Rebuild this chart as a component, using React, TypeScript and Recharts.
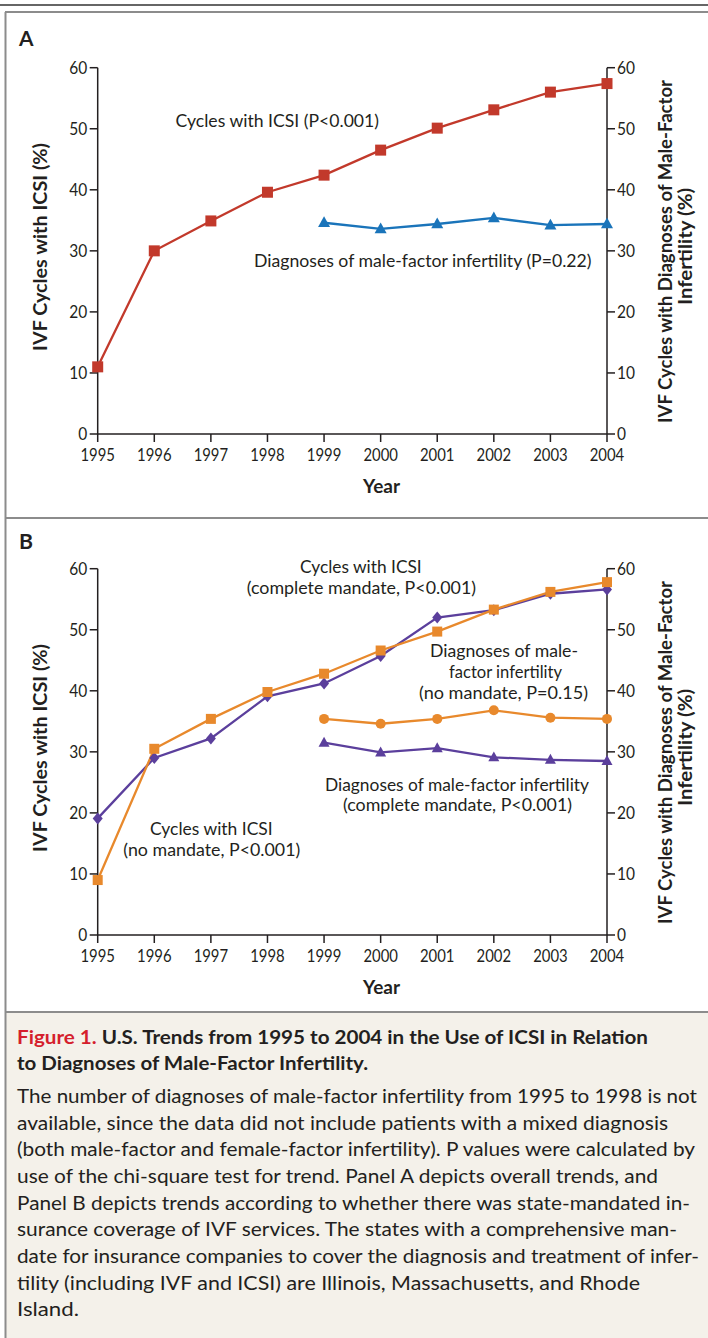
import { LineChart, Line, XAxis, YAxis } from "recharts";

// years on the x axis
const years = [1995, 1996, 1997, 1998, 1999, 2000, 2001, 2002, 2003, 2004];
const yTicks = [0, 10, 20, 30, 40, 50, 60];

// panel A
const icsiAll = [11.0, 30.0, 34.9, 39.6, 42.4, 46.5, 50.1, 53.1, 56.0, 57.4];
const maleAll = [null, null, null, null, 34.6, 33.6, 34.4, 35.4, 34.2, 34.4];

// panel B
const icsiNoMandate = [9.0, 30.5, 35.4, 39.8, 42.8, 46.6, 49.7, 53.3, 56.2, 57.8];
const icsiComplete = [19.1, 29.0, 32.2, 39.1, 41.2, 45.7, 52.0, 53.2, 55.9, 56.6];
const maleNoMandate = [null, null, null, null, 35.4, 34.6, 35.4, 36.8, 35.6, 35.4];
const maleComplete = [null, null, null, null, 31.5, 29.9, 30.6, 29.1, 28.7, 28.5];

const dataA = years.map((year, i) => ({ year, icsi: icsiAll[i], male: maleAll[i] }));
const dataB = years.map((year, i) => ({
  year,
  icsiNo: icsiNoMandate[i],
  icsiComp: icsiComplete[i],
  maleNo: maleNoMandate[i],
  maleComp: maleComplete[i],
}));

const FONT = "Lato, 'Open Sans', sans-serif";
const INK = "#231f20";
const RED = "#c2392b";
const BLUE = "#1a74ba";
const ORANGE = "#e8892c";
const PURPLE = "#5b3f9c";

const square = (size: number, color: string) => (p: any) => {
  if (p.cx == null || p.cy == null || p.value == null) return <g key={p.index} />;
  return <rect key={p.index} x={p.cx - size / 2} y={p.cy - size / 2} width={size} height={size} fill={color} />;
};
const triangle = (size: number, color: string) => (p: any) => {
  if (p.cx == null || p.cy == null || p.value == null) return <g key={p.index} />;
  const h = size * 0.9;
  const pts = `${p.cx},${p.cy - h * 0.6} ${p.cx + size / 2},${p.cy + h * 0.4} ${p.cx - size / 2},${p.cy + h * 0.4}`;
  return <polygon key={p.index} points={pts} fill={color} />;
};
const diamond = (w: number, h: number, color: string) => (p: any) => {
  if (p.cx == null || p.cy == null || p.value == null) return <g key={p.index} />;
  const pts = `${p.cx},${p.cy - h / 2} ${p.cx + w / 2},${p.cy} ${p.cx},${p.cy + h / 2} ${p.cx - w / 2},${p.cy}`;
  return <polygon key={p.index} points={pts} fill={color} />;
};
const circle = (r: number, color: string) => (p: any) => {
  if (p.cx == null || p.cy == null || p.value == null) return <g key={p.index} />;
  return <circle key={p.index} cx={p.cx} cy={p.cy} r={r} fill={color} />;
};

const YTick = (p: any) => {
  const s = String(p.payload.value);
  return (
    <text x={p.x} y={p.y} dy="0.36em" textAnchor={p.textAnchor} fontSize={17.5} fontFamily={FONT} fill={INK}
      textLength={s.length * 9} lengthAdjust="spacingAndGlyphs">{s}</text>
  );
};
const XTick = (p: any) => {
  const s = String(p.payload.value);
  return (
    <text x={p.x} y={p.y} dy="0.71em" textAnchor="middle" fontSize={17.5} fontFamily={FONT} fill={INK}
      textLength={34.5} lengthAdjust="spacingAndGlyphs">{s}</text>
  );
};

const axisCommon = {
  stroke: INK,
  strokeWidth: 1.5,
  tickSize: 8,
};

const chartMargin = { top: 67.7, right: 61, bottom: 36, left: 57.7 };

function PanelA() {
  return (
    <LineChart width={708} height={500} data={dataA} margin={chartMargin}>
      <XAxis dataKey="year" type="number" domain={[1995, 2004]} ticks={years} height={30}
        {...axisCommon} tickMargin={7} tick={<XTick />} />
      <YAxis yAxisId="left" domain={[0, 60]} ticks={yTicks} width={40} {...axisCommon} tickMargin={2.5} tick={<YTick />} />
      <YAxis yAxisId="right" orientation="right" domain={[0, 60]} ticks={yTicks} width={40} {...axisCommon}
        tickMargin={2} tick={<YTick />} />
      <Line yAxisId="left" dataKey="icsi" stroke={RED} strokeWidth={2.3} dot={square(11, RED)} isAnimationActive={false} />
      <Line yAxisId="right" dataKey="male" stroke={BLUE} strokeWidth={2.3} dot={triangle(12, BLUE)} isAnimationActive={false} />
    </LineChart>
  );
}

function PanelB() {
  return (
    <LineChart width={708} height={500} data={dataB} margin={chartMargin}>
      <XAxis dataKey="year" type="number" domain={[1995, 2004]} ticks={years} height={30}
        {...axisCommon} tickMargin={7} tick={<XTick />} />
      <YAxis yAxisId="left" domain={[0, 60]} ticks={yTicks} width={40} {...axisCommon} tickMargin={2.5} tick={<YTick />} />
      <YAxis yAxisId="right" orientation="right" domain={[0, 60]} ticks={yTicks} width={40} {...axisCommon}
        tickMargin={2} tick={<YTick />} />
      <Line yAxisId="right" dataKey="maleComp" stroke={PURPLE} strokeWidth={2.3} dot={triangle(11, PURPLE)} isAnimationActive={false} />
      <Line yAxisId="right" dataKey="maleNo" stroke={ORANGE} strokeWidth={2.3} dot={circle(5, ORANGE)} isAnimationActive={false} />
      <Line yAxisId="left" dataKey="icsiComp" stroke={PURPLE} strokeWidth={2.3} dot={diamond(10, 12, PURPLE)} isAnimationActive={false} />
      <Line yAxisId="left" dataKey="icsiNo" stroke={ORANGE} strokeWidth={2.3} dot={square(10, ORANGE)} isAnimationActive={false} />
    </LineChart>
  );
}

// text placed at start x, baseline y, squeezed to the measured width
const T = ({ x, y, w, children, size = 17, bold = false, fill = INK }: any) => (
  <text x={x} y={y} fontSize={size} fontWeight={bold ? 700 : 400} fontFamily={FONT} fill={fill}
    textLength={w} lengthAdjust="spacingAndGlyphs">{children}</text>
);

const VT = ({ x, y, w, children }: any) => (
  <text transform={`translate(${x},${y}) rotate(-90)`} textAnchor="middle" fontSize={18.5} fontWeight={700}
    fontFamily={FONT} fill={INK} textLength={w} lengthAdjust="spacingAndGlyphs">{children}</text>
);

function AxisTitles({ dy }: { dy: number }) {
  return (
    <g>
      <VT x={47} y={247 + dy} w={208}>IVF Cycles with ICSI (%)</VT>
      <VT x={671.5} y={251.5 + dy} w={343}>IVF Cycles with Diagnoses of Male-Factor</VT>
      <VT x={691.5} y={246.5 + dy} w={117}>Infertility (%)</VT>
      <T x={363} y={493 + dy} w={37} size={18.5} bold>Year</T>
    </g>
  );
}

const captionLines: [string, number][] = [
  ["The number of diagnoses of male-factor infertility from 1995 to 1998 is not", 680],
  ["available, since the data did not include patients with a mixed diagnosis", 651],
  ["(both male-factor and female-factor infertility). P values were calculated by", 678],
  ["use of the chi-square test for trend. Panel A depicts overall trends, and", 641],
  ["Panel B depicts trends according to whether there was state-mandated in-", 673],
  ["surance coverage of IVF services. The states with a comprehensive man-", 660],
  ["date for insurance companies to cover the diagnosis and treatment of infer-", 682],
  ["tility (including IVF and ICSI) are Illinois, Massachusetts, and Rhode", 623],
  ["Island.", 62],
];

export default function App() {
  return (
    <div style={{ position: "absolute", left: 0, top: 0, width: 708, height: 1338, background: "#fff", overflow: "hidden" }}>
      <svg width={708} height={1338} style={{ position: "absolute", left: 0, top: 0 }}>
        <rect x={5} y={1012} width={703} height={326} fill="#f4f1ea" />
        <line x1={0} y1={5} x2={708} y2={5} stroke="#666" strokeWidth={2} />
        <line x1={5} y1={12} x2={708} y2={12} stroke="#8c8c8c" strokeWidth={2} />
        <line x1={5.5} y1={12} x2={5.5} y2={1338} stroke="#8c8c8c" strokeWidth={2} />
        <line x1={5} y1={518} x2={708} y2={518} stroke="#8c8c8c" strokeWidth={2} />
        <line x1={5} y1={1012} x2={708} y2={1012} stroke="#8c8c8c" strokeWidth={2} />
      </svg>
      <div style={{ position: "absolute", left: 0, top: 0 }}>
        <PanelA />
      </div>
      <div style={{ position: "absolute", left: 0, top: 501 }}>
        <PanelB />
      </div>
      <svg width={708} height={1338} style={{ position: "absolute", left: 0, top: 0, pointerEvents: "none" }}>
        <T x={19} y={46} w={14.5} size={21} bold>A</T>
        <T x={19} y={549} w={14} size={21} bold>B</T>
        <AxisTitles dy={0} />
        <AxisTitles dy={501} />

        <T x={175.5} y={126.5} w={203.5}>Cycles with ICSI (P&lt;0.001)</T>
        <T x={254} y={266.5} w={337.5}>Diagnoses of male-factor infertility (P=0.22)</T>

        <T x={300} y={572.5} w={121.7}>Cycles with ICSI</T>
        <T x={246.7} y={594} w={229.3}>(complete mandate, P&lt;0.001)</T>
        <T x={430} y={657} w={148}>Diagnoses of male-</T>
        <T x={449} y={678} w={113}>factor infertility</T>
        <T x={419} y={699} w={169}>(no mandate, P=0.15)</T>
        <T x={325} y={790.5} w={264}>Diagnoses of male-factor infertility</T>
        <T x={343} y={811} w={229}>(complete mandate, P&lt;0.001)</T>
        <T x={150} y={835} w={122.7}>Cycles with ICSI</T>
        <T x={123.3} y={856} w={177}>(no mandate, P&lt;0.001)</T>

        <text x={17} y={1044} fontSize={18.5} fontWeight={700} fontFamily={FONT} fill={INK}
          textLength={631} lengthAdjust="spacingAndGlyphs">
          <tspan fill="#d51f2d">Figure 1.</tspan> U.S. Trends from 1995 to 2004 in the Use of ICSI in Relation
        </text>
        <T x={17} y={1070} w={351} size={18.5} bold>to Diagnoses of Male-Factor Infertility.</T>
        {captionLines.map(([s, w], i) => (
          <T key={i} x={17} y={1103 + i * 26.65} w={w} size={18.5}>{s}</T>
        ))}
      </svg>
    </div>
  );
}
